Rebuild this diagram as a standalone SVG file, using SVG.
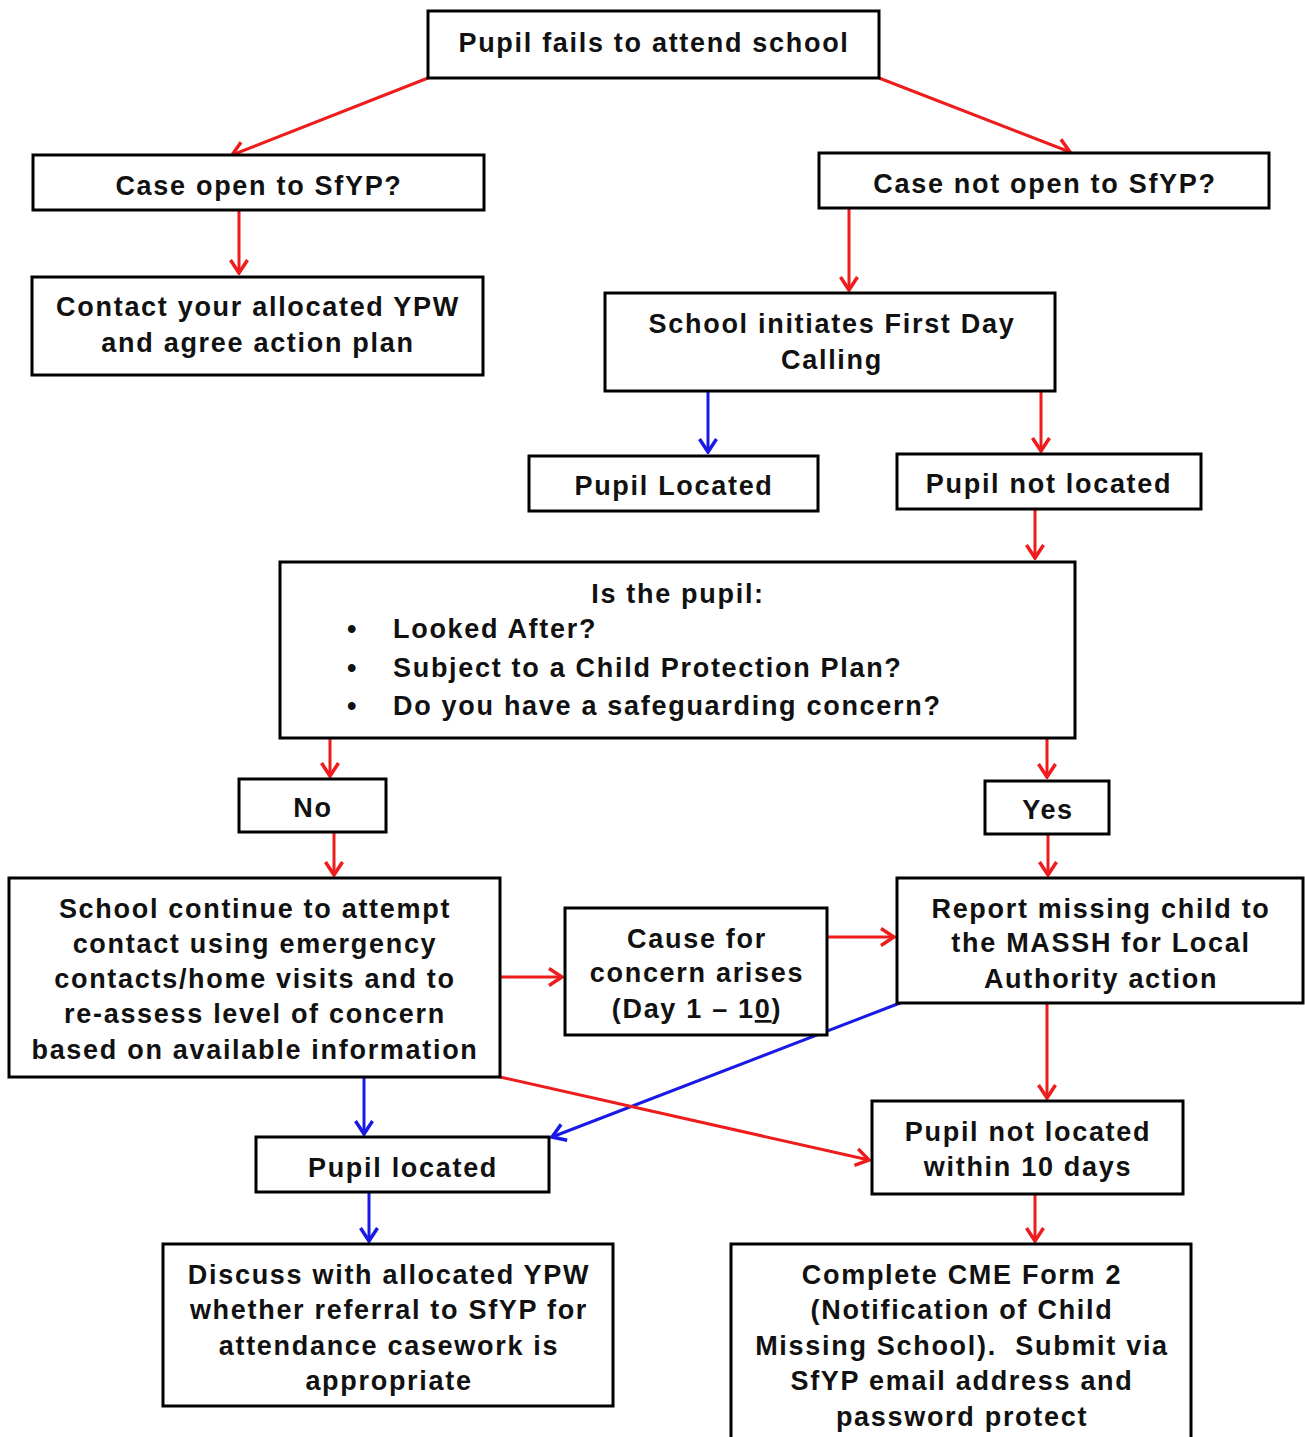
<svg xmlns="http://www.w3.org/2000/svg" width="1305" height="1437" viewBox="0 0 1305 1437">
<defs>
<style>
.box{fill:#fff;stroke:#000;stroke-width:3}
.t{font-family:"Liberation Sans",Arial,sans-serif;font-weight:bold;font-size:27px;letter-spacing:1.7px;fill:#111;text-anchor:middle}
.tl{font-family:"Liberation Sans",Arial,sans-serif;font-weight:bold;font-size:27px;letter-spacing:1.7px;fill:#111}
.r{stroke:#ee1c1c;stroke-width:3;fill:none;marker-end:url(#ar)}
.b{stroke:#1a1ae6;stroke-width:3;fill:none;marker-end:url(#ab)}
</style>
<marker id="ar" viewBox="0 0 18 20" refX="16" refY="10" markerWidth="18" markerHeight="20" markerUnits="userSpaceOnUse" orient="auto">
<polyline points="3,1.5 16,10 3,18.5" fill="none" stroke="#ee1c1c" stroke-width="3.5"/>
</marker>
<marker id="ab" viewBox="0 0 18 20" refX="16" refY="10" markerWidth="18" markerHeight="20" markerUnits="userSpaceOnUse" orient="auto">
<polyline points="3,1.5 16,10 3,18.5" fill="none" stroke="#1a1ae6" stroke-width="3.5"/>
</marker>
</defs>
<rect width="1305" height="1437" fill="#fff"/>
<g id="connectors">
<line class="r" x1="428" y1="78" x2="232" y2="155"/>
<line class="r" x1="879" y1="78" x2="1070" y2="152"/>
<line class="r" x1="239" y1="210" x2="239" y2="273"/>
<line class="r" x1="849" y1="208" x2="849" y2="290"/>
<line class="b" x1="708" y1="391" x2="708" y2="452"/>
<line class="r" x1="1041" y1="391" x2="1041" y2="451"/>
<line class="r" x1="1035" y1="509" x2="1035" y2="558"/>
<line class="r" x1="330" y1="738" x2="330" y2="776"/>
<line class="r" x1="1047" y1="738" x2="1047" y2="777"/>
<line class="r" x1="334" y1="832" x2="334" y2="875"/>
<line class="r" x1="1048" y1="834" x2="1048" y2="875"/>
<line class="r" x1="500" y1="977" x2="562" y2="977"/>
<line class="r" x1="827" y1="937" x2="894" y2="937"/>
<line class="b" x1="900" y1="1003" x2="552" y2="1137"/>
<line class="r" x1="1047" y1="1003" x2="1047" y2="1098"/>
<line class="r" x1="500" y1="1077" x2="869" y2="1160"/>
<line class="b" x1="364" y1="1077" x2="364" y2="1134"/>
<line class="b" x1="369" y1="1192" x2="369" y2="1241"/>
<line class="r" x1="1035" y1="1194" x2="1035" y2="1241"/>
</g>
<g id="n1"><rect class="box" x="428" y="11" width="451" height="67"/><text class="t" x="654" y="52">Pupil fails to attend school</text></g>
<g id="n2"><rect class="box" x="33" y="155" width="451" height="55"/><text class="t" x="259" y="195">Case open to SfYP?</text></g>
<g id="n3"><rect class="box" x="819" y="153" width="450" height="55"/><text class="t" x="1045" y="193">Case not open to SfYP?</text></g>
<g id="n4"><rect class="box" x="32" y="277" width="451" height="98"/><text class="t" x="258" y="316">Contact your allocated YPW</text><text class="t" x="258" y="352">and agree action plan</text></g>
<g id="n5"><rect class="box" x="605" y="293" width="450" height="98"/><text class="t" x="832" y="333">School initiates First Day</text><text class="t" x="832" y="369">Calling</text></g>
<g id="n6"><rect class="box" x="529" y="456" width="289" height="55"/><text class="t" x="674" y="495">Pupil Located</text></g>
<g id="n7"><rect class="box" x="897" y="454" width="304" height="55"/><text class="t" x="1049" y="493">Pupil not located</text></g>
<g id="n8"><rect class="box" x="280" y="562" width="795" height="176"/>
<text class="t" x="678" y="603">Is the pupil:</text>
<text class="tl" x="347" y="638">•</text><text class="tl" x="393" y="638">Looked After?</text>
<text class="tl" x="347" y="677">•</text><text class="tl" x="393" y="677">Subject to a Child Protection Plan?</text>
<text class="tl" x="347" y="715">•</text><text class="tl" x="393" y="715">Do you have a safeguarding concern?</text>
</g>
<g id="n9"><rect class="box" x="239" y="779" width="147" height="53"/><text class="t" x="313" y="817">No</text></g>
<g id="n10"><rect class="box" x="985" y="781" width="124" height="53"/><text class="t" x="1048" y="819">Yes</text></g>
<g id="n11"><rect class="box" x="9" y="878" width="491" height="199"/>
<text class="t" x="255" y="918">School continue to attempt</text>
<text class="t" x="255" y="953">contact using emergency</text>
<text class="t" x="255" y="988">contacts/home visits and to</text>
<text class="t" x="255" y="1023">re-assess level of concern</text>
<text class="t" x="255" y="1059">based on available information</text>
</g>
<g id="n12"><rect class="box" x="565" y="908" width="262" height="127"/>
<text class="t" x="697" y="948">Cause for</text>
<text class="t" x="697" y="982">concern arises</text>
<text class="t" x="697" y="1018">(Day 1 – 1<tspan text-decoration="underline">0</tspan>)</text>
</g>
<g id="n13"><rect class="box" x="897" y="878" width="406" height="125"/>
<text class="t" x="1101" y="918">Report missing child to</text>
<text class="t" x="1101" y="952">the MASSH for Local</text>
<text class="t" x="1101" y="988">Authority action</text>
</g>
<g id="n14"><rect class="box" x="256" y="1137" width="293" height="55"/><text class="t" x="403" y="1177">Pupil located</text></g>
<g id="n15"><rect class="box" x="872" y="1101" width="311" height="93"/>
<text class="t" x="1028" y="1141">Pupil not located</text>
<text class="t" x="1028" y="1176">within 10 days</text>
</g>
<g id="n16"><rect class="box" x="163" y="1244" width="450" height="162"/>
<text class="t" x="389" y="1284">Discuss with allocated YPW</text>
<text class="t" x="389" y="1319">whether referral to SfYP for</text>
<text class="t" x="389" y="1355">attendance casework is</text>
<text class="t" x="389" y="1390">appropriate</text>
</g>
<g id="n17"><rect class="box" x="731" y="1244" width="460" height="200"/>
<text class="t" x="962" y="1284">Complete CME Form 2</text>
<text class="t" x="962" y="1319">(Notification of Child</text>
<text class="t" x="962" y="1355" xml:space="preserve">Missing School).  Submit via</text>
<text class="t" x="962" y="1390">SfYP email address and</text>
<text class="t" x="962" y="1426">password protect</text>
</g>
</svg>
